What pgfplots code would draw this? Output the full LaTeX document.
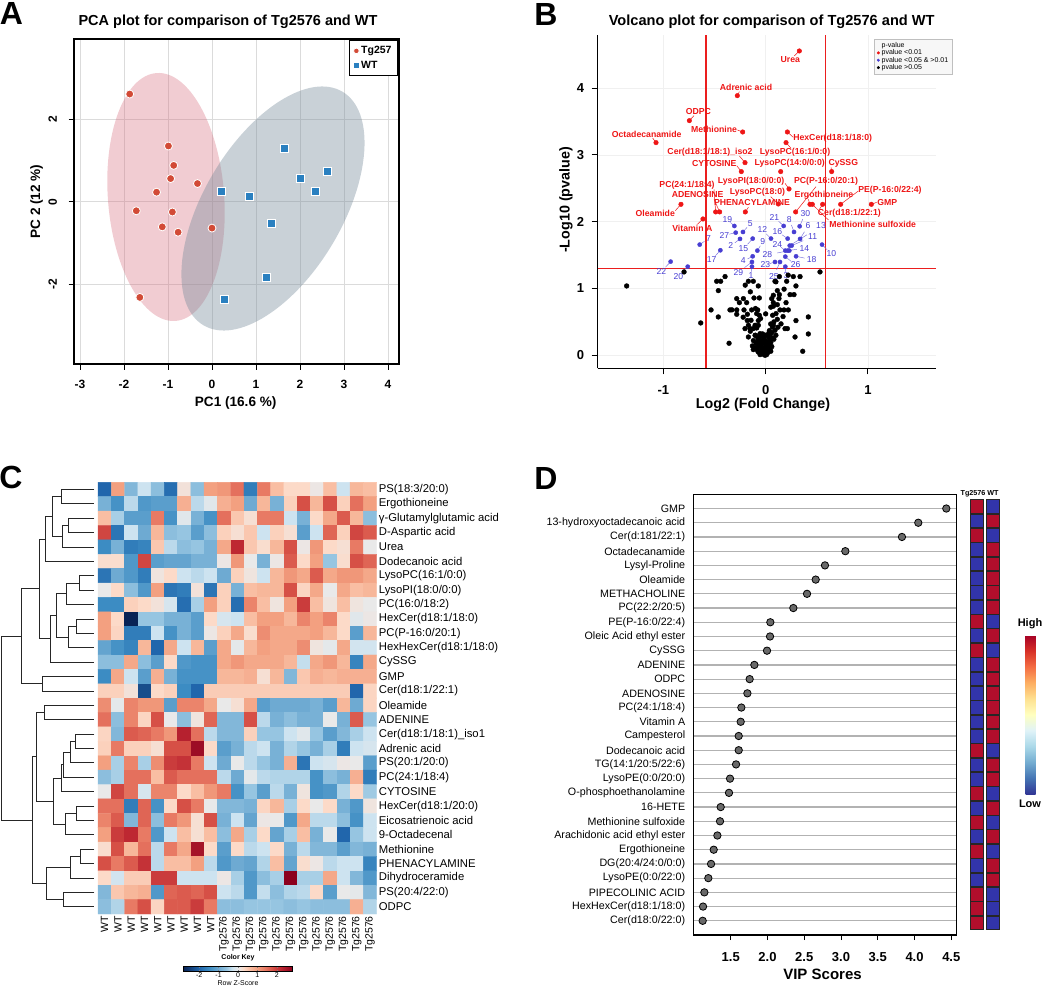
\documentclass[border=0pt]{standalone}
\usepackage{fontspec}
\setmainfont{Liberation Sans}
\usepackage{pgfplots}
\pgfplotsset{compat=1.18}
\usetikzlibrary{shapes.geometric,calc}
\newcommand{\fs}[1]{\fontsize{#1}{#1}\selectfont}
% dendrogram join: x_join, y_a, x_a, y_b, x_b
\newcommand{\djn}[5]{\addplot[black!85, line width=0.9pt] coordinates {(#3,#2) (#1,#2) (#1,#4) (#5,#4)};}
% blue numbered label with leader
\newcommand{\bl}[5]{\draw[vblue!75, line width=0.45pt] (axis cs:#1,#2) -- ($(axis cs:#1,#2)!0.55!(axis cs:#3,#4)$); \node[blab] at (axis cs:#3,#4) {#5};}
\newcommand{\rl}[7]{\draw[vred, line width=0.5pt] (axis cs:#1,#2) -- (axis cs:#3,#4); \node[rlab] at (axis cs:#5,#6) {#7};}
\definecolor{pcared}{RGB}{210,74,54}
\definecolor{pcablue}{RGB}{42,128,192}
\definecolor{ellred}{RGB}{215,110,125}
\definecolor{ellgray}{RGB}{120,140,155}
\definecolor{vred}{RGB}{238,22,22}
\definecolor{vblue}{RGB}{72,62,210}
\definecolor{vline}{RGB}{235,30,30}
\definecolor{dotgray}{RGB}{105,105,105}
\definecolor{stripred}{RGB}{178,14,44}
\definecolor{stripblue}{RGB}{50,52,170}
\pgfplotsset{
  /pgf/number format/assume math mode=true,
  colormap={hm}{rgb255(0cm)=(8,35,85) rgb255(0.8cm)=(33,102,172) rgb255(1.3cm)=(60,140,195)
    rgb255(1.8cm)=(110,170,210) rgb255(2.2cm)=(150,197,225) rgb255(2.5cm)=(205,227,240)
    rgb255(2.8cm)=(233,233,233) rgb255(3.1cm)=(252,218,200) rgb255(3.4cm)=(249,190,163)
    rgb255(3.8cm)=(243,160,128) rgb255(4.2cm)=(232,122,100) rgb255(4.6cm)=(214,80,70)
    rgb255(5.0cm)=(190,40,50) rgb255(5.6cm)=(140,0,30)},
  colormap={rdylbu}{rgb255=(49,54,149) rgb255=(69,117,180) rgb255=(116,173,209) rgb255=(171,217,233)
    rgb255=(224,243,248) rgb255=(255,255,191) rgb255=(254,224,144) rgb255=(253,174,97)
    rgb255=(244,109,67) rgb255=(215,48,39) rgb255=(165,0,38)},
}
\tikzset{rlab/.style={font=\bfseries\fs{8.7}, text=vred, inner sep=0.5pt},
         blab/.style={font=\fs{8.6}, text=vblue, inner sep=0.5pt}}
\begin{document}
\begin{tikzpicture}
\useasboundingbox (0pt,0pt) rectangle (1050pt,-1007pt);

% ---------------- panel letters and titles ----------------
\node[font=\bfseries\fs{32}] at (11.5pt,-13.5pt) {A};
\node[font=\bfseries\fs{32}] at (546pt,-14pt) {B};
\node[font=\bfseries\fs{32}] at (11pt,-477pt) {C};
\node[font=\bfseries\fs{32}] at (546pt,-478pt) {D};
\node[font=\bfseries\fs{14.5}] at (228pt,-22pt) {PCA plot for comparison of Tg2576 and WT};
\node[font=\bfseries\fs{14.6}] at (771.7pt,-21.7pt) {Volcano plot for comparison of Tg2576 and WT};

% ---------------- A: PCA ----------------
\begin{axis}[
  at={(74pt,-364pt)}, anchor=south west, scale only axis,
  width=325pt, height=325pt,
  xmin=-3.136, xmax=4.25, ymin=-3.935, ymax=3.944,
  xtick={-3,...,4}, ytick={-2,0,2},
  grid=major, grid style={black!14, line width=0.9pt},
  axis line style={line width=1.4pt},
  tick align=outside, tick pos=left, major tick length=5.5pt,
  tick style={black, line width=0.9pt},
  ticklabel style={font=\bfseries\fs{12}},
  xticklabel shift=7pt, yticklabel shift=8pt,
  yticklabel style={rotate=90, anchor=south},
  xlabel={PC1 (16.6 \%)}, ylabel={PC 2 (12 \%)},
  label style={font=\bfseries\fs{13.6}},
  xlabel style={at={(axis description cs:0.4975,-0.119)}, anchor=center},
  ylabel style={at={(axis description cs:-0.115,0.5)}, anchor=center},
  legend style={at={(axis description cs:0.997,0.997)}, anchor=north east, draw=black,
    line width=1pt, font=\bfseries\fs{10.5}, inner xsep=4pt, inner ysep=4pt,
    row sep=1.5pt, cells={anchor=west}},
  legend image code/.code={\draw[#1, mark size=2.8pt] plot coordinates {(0pt,0pt)};},
]
\node[ellipse, fill=ellred, fill opacity=0.35, inner sep=0pt, minimum width=248.6pt,
      minimum height=116.2pt, rotate=94.4] at (axis cs:-1.045,0.114) {};
\node[ellipse, fill=ellgray, fill opacity=0.4, inner sep=0pt, minimum width=271.8pt,
      minimum height=138.6pt, rotate=59.2] at (axis cs:1.386,-0.165) {};
\addplot[only marks, mark=*, mark size=4pt, mark options={fill=pcared, draw=white, line width=0.8pt}]
  coordinates {(-1.87,2.61) (-0.99,1.35) (-0.87,0.88) (-0.94,0.56) (-0.33,0.44) (-1.26,0.23)
               (-1.72,-0.22) (-0.90,-0.25) (-1.13,-0.61) (-0.77,-0.74) (0.00,-0.64) (-1.64,-2.32)};
\addlegendentry{Tg257}
\addplot[only marks, mark=square*, mark size=4pt, mark options={fill=pcablue, draw=white, line width=0.8pt}]
  coordinates {(0.22,0.24) (0.86,0.14) (1.65,1.30) (2.02,0.56) (2.62,0.74) (2.36,0.24)
               (1.35,-0.53) (1.23,-1.83) (0.28,-2.38)};
\addlegendentry{WT}
\end{axis}

% ---------------- B: volcano ----------------
\begin{axis}[
  at={(597.7pt,-368.3pt)}, anchor=south west, scale only axis,
  width=338.3pt, height=333.3pt,
  xmin=-1.642, xmax=1.665, ymin=-0.195, ymax=4.795,
  axis x line*=bottom, axis y line*=left,
  axis line style={line width=1.2pt, -},
  xtick={-1,0,1}, ytick={0,...,4},
  tick align=outside, major tick length=6pt, tick style={black, line width=1pt},
  ticklabel style={font=\bfseries\fs{13}},
  xticklabel shift=8pt, yticklabel shift=4pt,
  grid=major, grid style={black!6, line width=0.6pt},
  xlabel={Log2 (Fold Change)}, ylabel={-Log10 (pvalue)},
  label style={font=\bfseries\fs{14.3}},
  xlabel style={at={(axis description cs:0.4886,-0.110)}, anchor=center},
  ylabel style={at={(axis description cs:-0.0937,0.505)}, anchor=center},
  clip=false,
  legend style={at={(axis description cs:1.047,0.988)}, anchor=north east, font=\fs{7},
    draw=black!25, fill=black!3, inner xsep=1.5pt, inner ysep=1pt, row sep=-3.2pt,
    cells={anchor=west}},
  legend image code/.code={\draw[#1, mark size=1.3pt] plot coordinates {(3pt,0pt)};},
]
\addlegendimage{empty legend}\addlegendentry{p-value}
\draw[color=vline, line width=1.6pt] (axis cs:-0.585,-0.195) -- (axis cs:-0.585,4.795);
\draw[color=vline, line width=1.6pt] (axis cs:0.585,-0.195) -- (axis cs:0.585,4.795);
\draw[color=vline, line width=1.4pt] (axis cs:-1.642,1.301) -- (axis cs:1.665,1.301);
% leaders and labels (red)
\rl{0.329}{4.556}{0.280}{4.481}{0.241}{4.421}{Urea}
\rl{-0.277}{3.887}{-0.257}{3.947}{-0.192}{4.012}{Adrenic acid}
\rl{-0.746}{3.513}{-0.701}{3.588}{-0.658}{3.643}{ODPC}
\rl{-0.225}{3.343}{-0.277}{3.373}{-0.505}{3.378}{Methionine}
\rl{-1.072}{3.184}{-1.105}{3.253}{-1.163}{3.313}{Octadecanamide}
\rl{0.212}{3.343}{0.270}{3.263}{0.655}{3.243}{HexCer(d18:1/18:0)}
\rl{0.199}{3.184}{0.248}{3.099}{0.287}{3.039}{LysoPC(16:1/0:0)}
\rl{-0.202}{2.884}{-0.257}{2.984}{-0.544}{3.039}{Cer(d18:1/18:1)\_iso2}
\rl{-0.238}{2.750}{-0.283}{2.839}{-0.502}{2.874}{CYTOSINE}
\rl{0.147}{2.750}{0.147}{2.750}{0.235}{2.874}{LysoPC(14:0/0:0)}
\rl{0.645}{2.750}{0.639}{2.814}{0.759}{2.874}{CySSG}
\rl{0.228}{2.490}{0.189}{2.575}{-0.143}{2.605}{LysoPI(18:0/0:0)}
\rl{0.293}{2.146}{0.492}{2.525}{0.590}{2.605}{PC(P-16:0/20:1)}
\rl{-0.489}{2.146}{-0.505}{2.485}{-0.769}{2.550}{PC(24:1/18:4)}
\rl{0.124}{2.265}{0.049}{2.375}{-0.081}{2.440}{LysoPC(18:0)}
\rl{-0.450}{2.146}{-0.505}{2.335}{-0.665}{2.400}{ADENOSINE}
\rl{0.433}{2.260}{0.417}{2.335}{0.570}{2.400}{Ergothioneine}
\rl{0.733}{2.260}{0.906}{2.460}{1.215}{2.465}{PE(P-16:0/22:4)}
\rl{-0.199}{2.146}{-0.169}{2.216}{-0.134}{2.285}{PHENACYLAMINE}
\rl{1.033}{2.260}{1.085}{2.290}{1.189}{2.290}{GMP}
\rl{-0.828}{2.260}{-0.883}{2.166}{-1.079}{2.126}{Oleamide}
\rl{0.557}{2.260}{0.525}{2.186}{0.818}{2.126}{Cer(d18:1/22:1)}
\rl{0.456}{2.260}{0.613}{2.026}{1.046}{1.966}{Methionine sulfoxide}
\rl{-0.613}{2.041}{-0.668}{1.961}{-0.717}{1.901}{Vitamin A}
% blue numbered labels
\bl{-0.134}{1.327}{-0.143}{1.188}{1}
\bl{-0.251}{1.742}{-0.342}{1.637}{2}
\bl{0.192}{1.327}{0.199}{1.188}{3}
\bl{-0.127}{1.482}{-0.218}{1.412}{4}
\bl{-0.222}{1.846}{-0.150}{1.971}{5}
\bl{0.336}{1.742}{0.414}{1.936}{6}
\bl{-0.645}{1.657}{-0.560}{1.747}{7}
\bl{0.277}{1.846}{0.231}{2.036}{8}
\bl{-0.081}{1.567}{-0.029}{1.697}{9}
\bl{0.551}{1.657}{0.642}{1.517}{10}
\bl{0.254}{1.642}{0.459}{1.776}{11}
\bl{0.052}{1.747}{-0.033}{1.876}{12}
\bl{0.235}{1.642}{0.541}{1.936}{13}
\bl{0.215}{1.567}{0.378}{1.602}{14}
\bl{-0.127}{1.747}{-0.218}{1.592}{15}
\bl{0.215}{1.747}{0.114}{1.851}{16}
\bl{-0.443}{1.572}{-0.528}{1.427}{17}
\bl{0.297}{1.482}{0.450}{1.432}{18}
\bl{-0.306}{1.936}{-0.375}{2.031}{19}
\bl{-0.762}{1.327}{-0.854}{1.183}{20}
\bl{0.176}{1.936}{0.085}{2.066}{21}
\bl{-0.929}{1.402}{-1.020}{1.252}{22}
\bl{0.091}{1.397}{-0.003}{1.352}{23}
\bl{0.192}{1.567}{0.114}{1.662}{24}
\bl{0.140}{1.397}{0.081}{1.183}{25}
\bl{0.192}{1.477}{0.293}{1.352}{26}
\bl{-0.293}{1.836}{-0.404}{1.796}{27}
\bl{0.231}{1.567}{0.016}{1.502}{28}
\bl{-0.134}{1.397}{-0.267}{1.243}{29}
\bl{0.332}{1.931}{0.388}{2.126}{30}
\addplot[only marks, mark=*, mark size=2.3pt, color=vred] coordinates {
 (0.329,4.556) (-0.277,3.887) (-0.746,3.513) (-0.225,3.343) (-1.072,3.184) (0.212,3.343)
 (0.199,3.184) (-0.202,2.884) (-0.238,2.750) (0.147,2.750) (0.645,2.750) (0.228,2.490)
 (-0.489,2.146) (-0.450,2.146) (-0.828,2.260) (-0.199,2.146) (0.124,2.265) (0.293,2.146)
 (0.433,2.260) (0.456,2.260) (0.557,2.260) (0.733,2.260) (1.033,2.260) (-0.613,2.041)};
\addlegendentry{pvalue <0.01}
\addplot[only marks, mark=*, mark size=2.1pt, color=vblue] coordinates {
 (-0.134,1.327) (-0.251,1.742) (0.192,1.327) (-0.127,1.482) (-0.222,1.846) (0.336,1.742)
 (-0.645,1.657) (0.277,1.846) (-0.081,1.567) (0.551,1.657) (0.254,1.642) (0.052,1.747)
 (0.235,1.642) (0.215,1.567) (-0.127,1.747) (0.215,1.747) (-0.443,1.572) (0.297,1.482)
 (-0.306,1.936) (-0.762,1.327) (0.176,1.936) (-0.929,1.402) (0.091,1.397) (0.192,1.567)
 (0.140,1.397) (0.192,1.477) (-0.293,1.836) (0.231,1.567) (-0.134,1.397) (0.332,1.931)};
\addlegendentry{pvalue <0.05 \& >0.01}
\addplot[only marks, mark=*, mark size=2.4pt, color=black] coordinates {
 (-0.397,1.178) (-0.479,1.108) (-0.440,1.108) (-0.169,1.108) (-0.121,1.108) (-0.072,1.038)
 (0.091,1.108) (0.134,1.178) (0.205,1.108) (0.296,1.038) (0.270,1.178) (0.336,1.178)
 (0.531,1.248) (-0.463,0.968) (0.114,0.968) (0.075,0.898) (0.134,0.908) (0.238,0.908)
 (0.277,0.908) (-0.283,0.848) (-0.218,0.848) (-0.114,0.858) (-0.062,0.858) (-0.257,0.788)
 (-0.186,0.788) (0.059,0.848) (0.075,0.788) (0.199,0.788) (-0.534,0.679) (-0.349,0.679)
 (-0.283,0.679) (-0.212,0.679) (-0.137,0.679) (-0.078,0.679) (0.075,0.734) (0.114,0.758)
 (0.140,0.679) (0.179,0.679) (0.221,0.679) (-0.283,0.614) (-0.179,0.614) (-0.088,0.624)
 (-0.062,0.599) (0.101,0.624) (0.068,0.599) (-0.463,0.574) (0.417,0.574) (-0.635,0.484)
 (-0.143,0.524) (-0.072,0.519) (0.114,0.539) (0.296,0.519) (-0.104,0.449) (-0.169,0.449)
 (-0.072,0.449) (0.049,0.469) (0.075,0.449) (0.065,0.424) (-0.202,0.399) (-0.153,0.399)
 (-0.088,0.409) (0.036,0.369) (0.091,0.374) (0.189,0.399) (0.212,0.399) (0.417,0.319)
 (-0.169,0.274) (-0.104,0.299) (-0.055,0.324) (-0.023,0.274) (0.026,0.274) (0.059,0.339)
 (0.042,0.309) (-0.072,0.240) (-0.039,0.210) (-0.016,0.240) (0.010,0.210) (0.042,0.225)
 (0.068,0.259) (-0.358,0.180) (-0.094,0.175) (-0.055,0.160) (-0.007,0.175) (0.036,0.160)
 (-0.039,0.125) (0.287,0.274) (-0.121,0.085) (-0.072,0.050) (-0.023,0.075) (0.003,0.050)
 (-0.016,0.025) (0.016,0.090) (0.042,0.090) (0.362,0.060) (-0.055,0.010) (-0.007,0.000)
 (-0.798,1.248) (-1.359,1.038)
 (-0.10,0.30) (-0.08,0.27) (-0.05,0.28) (-0.03,0.32) (0.00,0.30) (0.03,0.33) (-0.12,0.22)
 (-0.09,0.19) (-0.06,0.22) (-0.02,0.18) (0.01,0.15) (0.05,0.19) (-0.13,0.14) (-0.10,0.11)
 (-0.07,0.13) (-0.04,0.10) (0.00,0.11) (0.03,0.12) (0.06,0.13) (-0.08,0.07) (-0.05,0.05)
 (-0.02,0.06) (0.02,0.04) (0.05,0.06) (-0.03,0.02) (0.01,0.01) (-0.01,0.08) (0.08,0.24)
 (0.10,0.30) (-0.15,0.36) (-0.12,0.40) (0.12,0.42) (0.15,0.47) (-0.18,0.52) (0.17,0.58)
 (-0.22,0.57) (0.08,0.50) (-0.05,0.55) (0.00,0.62) (-0.10,0.70) (0.05,0.72) (0.13,0.85)
 (-0.15,0.95) (0.18,0.99) (-0.20,1.05) (0.10,1.10) (0.22,1.20) (-0.33,0.68)};
\addlegendentry{pvalue >0.05}
\end{axis}

% ---------------- C: heatmap ----------------
\begin{axis}[
  at={(98pt,-914pt)}, anchor=south west, scale only axis,
  width=278.7pt, height=431.7pt,
  xmin=-0.5, xmax=20.5, ymin=-0.5, ymax=29.5,
  axis line style={draw=none}, major tick length=0pt,
  xtick={0,...,20},
  xticklabels={WT,WT,WT,WT,WT,WT,WT,WT,WT,Tg2576,Tg2576,Tg2576,Tg2576,Tg2576,Tg2576,Tg2576,Tg2576,Tg2576,Tg2576,Tg2576,Tg2576},
  xticklabel style={rotate=90, anchor=east, font=\fs{10.5}, inner sep=2pt},
  ytick={0,...,29}, yticklabel pos=right,
  yticklabels={ODPC,PS(20:4/22:0),Dihydroceramide,PHENACYLAMINE,Methionine,9-Octadecenal,
    Eicosatrienoic acid,HexCer(d18:1/20:0),CYTOSINE,PC(24:1/18:4),PS(20:1/20:0),Adrenic acid,
    Cer(d18:1/18:1)\_iso1,ADENINE,Oleamide,Cer(d18:1/22:1),GMP,CySSG,HexHexCer(d18:1/18:0),
    PC(P-16:0/20:1),HexCer(d18:1/18:0),PC(16:0/18:2),LysoPI(18:0/0:0),LysoPC(16:1/0:0),
    Dodecanoic acid,Urea,D-Aspartic acid,γ-Glutamylglutamic acid,Ergothioneine,PS(18:3/20:0)},
  yticklabel style={anchor=west, font=\fs{11.3}, inner sep=2pt},
  colormap name=hm, point meta min=-2.8, point meta max=2.8,
  colorbar horizontal,
  colorbar style={at={(238pt,-958pt)}, anchor=north,
    scale only axis, width=108.7pt, height=4.6pt,
    xtick={-2,-1,0,1,2}, xticklabels={-2,-1,0,1,2}, ytick=\empty,
    xticklabel style={font=\fs{7}, inner sep=1pt}, major tick length=1.5pt,
    title={Color Key}, title style={font=\bfseries\fs{7}, inner sep=1pt, yshift=-2pt},
    xlabel={Row Z-Score}, xlabel style={font=\fs{7}, inner sep=0.5pt, yshift=-2pt},
    axis line style={line width=0.6pt}},
  clip=false,
]
\addplot[matrix plot*, mesh/cols=21, point meta=explicit] coordinates {
(0,29)[-2.0] (1,29)[1.0] (2,29)[-0.8] (3,29)[-0.3] (4,29)[-0.7] (5,29)[-1.9] (6,29)[0.15] (7,29)[-0.7] (8,29)[1.0] (9,29)[1.1] (10,29)[1.5] (11,29)[-1.7] (12,29)[1.4] (13,29)[0.6] (14,29)[0.3] (15,29)[0.3] (16,29)[0.05] (17,29)[0.6] (18,29)[-0.3] (19,29)[0.7] (20,29)[0.6]

(0,28)[-0.9] (1,28)[-1.4] (2,28)[-0.4] (3,28)[-1.3] (4,28)[-1.2] (5,28)[-1.2] (6,28)[0.8] (7,28)[-0.4] (8,28)[-0.1] (9,28)[0.8] (10,28)[1.0] (11,28)[-1.0] (12,28)[0.7] (13,28)[-0.9] (14,28)[0.4] (15,28)[1.8] (16,28)[0.7] (17,28)[1.8] (18,28)[0.4] (19,28)[1.5] (20,28)[1.0]

(0,27)[0.6] (1,27)[-0.5] (2,27)[-1.2] (3,27)[-1.2] (4,27)[1.4] (5,27)[-1.4] (6,27)[-0.1] (7,27)[-0.9] (8,27)[-1.4] (9,27)[1.5] (10,27)[0.5] (11,27)[0.2] (12,27)[1.4] (13,27)[1.4] (14,27)[-0.3] (15,27)[-0.9] (16,27)[0.3] (17,27)[0.9] (18,27)[1.7] (19,27)[0.7] (20,27)[-0.7]

(0,26)[1.9] (1,26)[-1.8] (2,26)[-0.3] (3,26)[-1.0] (4,26)[0.7] (5,26)[-0.7] (6,26)[-0.6] (7,26)[-1.2] (8,26)[-0.7] (9,26)[0.4] (10,26)[0.2] (11,26)[0.5] (12,26)[-0.3] (13,26)[0.4] (14,26)[0.2] (15,26)[-1.2] (16,26)[-0.3] (17,26)[1.6] (18,26)[0.4] (19,26)[1.9] (20,26)[1.7]

(0,25)[-1.5] (1,25)[-0.9] (2,25)[-1.7] (3,25)[-1.6] (4,25)[0.5] (5,25)[-0.4] (6,25)[-0.7] (7,25)[-0.6] (8,25)[-0.9] (9,25)[0.9] (10,25)[2.2] (11,25)[0.5] (12,25)[0.25] (13,25)[0.7] (14,25)[1.8] (15,25)[0.05] (16,25)[1.1] (17,25)[0.3] (18,25)[0.2] (19,25)[1.4] (20,25)[0.0]

(0,24)[0.25] (1,24)[0.25] (2,24)[-1.3] (3,24)[1.9] (4,24)[-1.2] (5,24)[-1.1] (6,24)[-1.1] (7,24)[-0.9] (8,24)[-0.9] (9,24)[0.05] (10,24)[1.1] (11,24)[0.0] (12,24)[-0.9] (13,24)[0.05] (14,24)[1.7] (15,24)[0.3] (16,24)[1.0] (17,24)[-0.6] (18,24)[0.25] (19,24)[1.8] (20,24)[1.6]

(0,23)[-1.8] (1,23)[-1.0] (2,23)[-1.3] (3,23)[-1.7] (4,23)[0.1] (5,23)[0.3] (6,23)[-0.3] (7,23)[-0.4] (8,23)[-0.3] (9,23)[-1.0] (10,23)[0.4] (11,23)[0.1] (12,23)[-0.3] (13,23)[0.7] (14,23)[1.1] (15,23)[0.9] (16,23)[1.7] (17,23)[0.9] (18,23)[1.1] (19,23)[1.1] (20,23)[0.9]

(0,22)[0.0] (1,22)[0.3] (2,22)[-0.7] (3,22)[-1.3] (4,22)[1.0] (5,22)[-1.8] (6,22)[-1.7] (7,22)[0.15] (8,22)[-1.8] (9,22)[0.4] (10,22)[-0.9] (11,22)[0.6] (12,22)[0.7] (13,22)[0.7] (14,22)[1.8] (15,22)[0.35] (16,22)[0.9] (17,22)[0.0] (18,22)[0.9] (19,22)[0.6] (20,22)[0.7]

(0,21)[-1.5] (1,21)[-1.5] (2,21)[0.4] (3,21)[0.3] (4,21)[0.15] (5,21)[-0.2] (6,21)[-1.9] (7,21)[-0.5] (8,21)[1.0] (9,21)[0.4] (10,21)[-1.9] (11,21)[1.3] (12,21)[0.6] (13,21)[0.1] (14,21)[1.0] (15,21)[2.0] (16,21)[0.6] (17,21)[0.1] (18,21)[0.6] (19,21)[0.1] (20,21)[0.0]

(0,20)[1.0] (1,20)[0.3] (2,20)[-2.8] (3,20)[-0.6] (4,20)[-0.6] (5,20)[-0.9] (6,20)[-0.9] (7,20)[-1.2] (8,20)[0.3] (9,20)[-0.2] (10,20)[-0.3] (11,20)[0.6] (12,20)[1.0] (13,20)[1.0] (14,20)[0.7] (15,20)[1.3] (16,20)[1.0] (17,20)[1.3] (18,20)[0.3] (19,20)[-0.1] (20,20)[0.05]

(0,19)[1.0] (1,19)[0.35] (2,19)[-1.7] (3,19)[-1.7] (4,19)[-0.3] (5,19)[-1.4] (6,19)[-0.9] (7,19)[-1.2] (8,19)[0.05] (9,19)[0.4] (10,19)[0.9] (11,19)[0.25] (12,19)[1.2] (13,19)[0.9] (14,19)[0.9] (15,19)[0.9] (16,19)[1.0] (17,19)[0.7] (18,19)[0.3] (19,19)[-1.2] (20,19)[0.7]

(0,18)[-1.1] (1,18)[-1.4] (2,18)[-1.6] (3,18)[0.7] (4,18)[-2.0] (5,18)[0.9] (6,18)[-0.3] (7,18)[0.7] (8,18)[-1.2] (9,18)[0.9] (10,18)[-0.05] (11,18)[0.7] (12,18)[1.0] (13,18)[0.9] (14,18)[0.9] (15,18)[1.2] (16,18)[0.1] (17,18)[-0.05] (18,18)[0.9] (19,18)[-0.25] (20,18)[-0.25]

(0,17)[-0.7] (1,17)[-0.7] (2,17)[0.9] (3,17)[-0.7] (4,17)[-1.2] (5,17)[0.3] (6,17)[-1.3] (7,17)[-1.4] (8,17)[-1.4] (9,17)[0.9] (10,17)[1.1] (11,17)[0.9] (12,17)[0.9] (13,17)[0.9] (14,17)[0.7] (15,17)[-0.35] (16,17)[0.9] (17,17)[1.1] (18,17)[0.7] (19,17)[-1.6] (20,17)[0.9]

(0,16)[-1.5] (1,16)[0.9] (2,16)[-0.3] (3,16)[-1.2] (4,16)[0.8] (5,16)[-0.9] (6,16)[-1.4] (7,16)[-1.4] (8,16)[-1.4] (9,16)[0.7] (10,16)[0.7] (11,16)[0.8] (12,16)[0.2] (13,16)[0.7] (14,16)[-0.8] (15,16)[0.5] (16,16)[0.8] (17,16)[0.7] (18,16)[0.8] (19,16)[0.8] (20,16)[0.8]

(0,15)[0.4] (1,15)[0.4] (2,15)[0.15] (3,15)[-2.3] (4,15)[0.3] (5,15)[0.4] (6,15)[-1.5] (7,15)[-2.0] (8,15)[0.45] (9,15)[0.45] (10,15)[0.45] (11,15)[0.45] (12,15)[0.45] (13,15)[0.45] (14,15)[0.45] (15,15)[0.45] (16,15)[0.45] (17,15)[0.45] (18,15)[0.45] (19,15)[-2.0] (20,15)[0.35]

(0,14)[1.2] (1,14)[-0.05] (2,14)[1.3] (3,14)[1.1] (4,14)[1.1] (5,14)[-1.2] (6,14)[1.3] (7,14)[1.3] (8,14)[0.9] (9,14)[0.0] (10,14)[0.2] (11,14)[0.9] (12,14)[-1.2] (13,14)[-1.0] (14,14)[-1.0] (15,14)[-1.0] (16,14)[-0.9] (17,14)[-1.2] (18,14)[0.7] (19,14)[-1.0] (20,14)[0.35]

(0,13)[1.5] (1,13)[-0.7] (2,13)[1.3] (3,13)[0.35] (4,13)[1.8] (5,13)[0.0] (6,13)[-0.7] (7,13)[0.1] (8,13)[1.6] (9,13)[-0.8] (10,13)[-0.8] (11,13)[1.8] (12,13)[-0.4] (13,13)[-0.9] (14,13)[-0.7] (15,13)[-0.9] (16,13)[-0.9] (17,13)[0.0] (18,13)[-0.9] (19,13)[1.7] (20,13)[-0.6]

(0,12)[0.35] (1,12)[-0.8] (2,12)[1.7] (3,12)[1.6] (4,12)[1.4] (5,12)[1.1] (6,12)[2.3] (7,12)[1.5] (8,12)[-0.4] (9,12)[-0.8] (10,12)[-0.8] (11,12)[0.4] (12,12)[-0.6] (13,12)[-0.6] (14,12)[-0.3] (15,12)[-0.1] (16,12)[-0.6] (17,12)[-1.2] (18,12)[-0.8] (19,12)[-0.5] (20,12)[-0.3]

(0,11)[0.4] (1,11)[1.4] (2,11)[0.4] (3,11)[0.4] (4,11)[0.2] (5,11)[1.8] (6,11)[1.8] (7,11)[2.6] (8,11)[0.3] (9,11)[-1.2] (10,11)[-0.9] (11,11)[-0.4] (12,11)[-0.3] (13,11)[-0.9] (14,11)[-0.45] (15,11)[-0.6] (16,11)[-0.9] (17,11)[-0.5] (18,11)[-1.7] (19,11)[-0.3] (20,11)[-0.2]

(0,10)[1.0] (1,10)[-0.5] (2,10)[1.3] (3,10)[-0.5] (4,10)[1.2] (5,10)[2.0] (6,10)[2.1] (7,10)[1.4] (8,10)[-0.3] (9,10)[-1.0] (10,10)[0.0] (11,10)[-0.4] (12,10)[-0.6] (13,10)[-0.9] (14,10)[0.8] (15,10)[-1.8] (16,10)[-0.3] (17,10)[-0.2] (18,10)[0.05] (19,10)[0.0] (20,10)[-1.2]

(0,9)[-0.7] (1,9)[-0.5] (2,9)[1.5] (3,9)[1.5] (4,9)[0.6] (5,9)[1.7] (6,9)[1.5] (7,9)[1.5] (8,9)[1.5] (9,9)[-0.4] (10,9)[-1.0] (11,9)[-0.05] (12,9)[-0.4] (13,9)[-0.45] (14,9)[-0.45] (15,9)[-0.45] (16,9)[-1.4] (17,9)[-0.7] (18,9)[-0.9] (19,9)[0.8] (20,9)[-1.7]

(0,8)[0.0] (1,8)[1.9] (2,8)[1.5] (3,8)[-0.2] (4,8)[1.3] (5,8)[1.3] (6,8)[0.3] (7,8)[0.6] (8,8)[1.1] (9,8)[1.4] (10,8)[-1.4] (11,8)[-0.6] (12,8)[-1.2] (13,8)[-0.4] (14,8)[-0.9] (15,8)[0.1] (16,8)[-1.4] (17,8)[-1.3] (18,8)[-0.45] (19,8)[0.3] (20,8)[-0.55]

(0,7)[1.5] (1,7)[1.5] (2,7)[-1.7] (3,7)[1.6] (4,7)[-1.4] (5,7)[0.3] (6,7)[1.8] (7,7)[1.4] (8,7)[0.0] (9,7)[-0.8] (10,7)[-0.8] (11,7)[-0.9] (12,7)[0.35] (13,7)[0.7] (14,7)[-0.5] (15,7)[0.3] (16,7)[0.0] (17,7)[0.3] (18,7)[-0.9] (19,7)[-1.3] (20,7)[0.1]

(0,6)[1.3] (1,6)[1.7] (2,6)[-0.8] (3,6)[1.6] (4,6)[-0.7] (5,6)[1.4] (6,6)[1.1] (7,6)[0.2] (8,6)[1.8] (9,6)[-0.9] (10,6)[-0.3] (11,6)[-1.1] (12,6)[0.05] (13,6)[0.0] (14,6)[-1.3] (15,6)[0.9] (16,6)[-0.4] (17,6)[-0.4] (18,6)[-0.7] (19,6)[-1.4] (20,6)[-0.3]

(0,5)[1.0] (1,5)[2.0] (2,5)[2.2] (3,5)[1.4] (4,5)[-1.3] (5,5)[-0.3] (6,5)[0.6] (7,5)[0.2] (8,5)[0.6] (9,5)[-0.7] (10,5)[0.9] (11,5)[-0.5] (12,5)[0.3] (13,5)[-1.1] (14,5)[-0.5] (15,5)[0.6] (16,5)[-0.9] (17,5)[0.0] (18,5)[-2.0] (19,5)[-0.6] (20,5)[-0.3]

(0,4)[0.25] (1,4)[1.8] (2,4)[0.7] (3,4)[1.5] (4,4)[-0.4] (5,4)[1.4] (6,4)[0.9] (7,4)[2.5] (8,4)[0.3] (9,4)[-1.2] (10,4)[0.3] (11,4)[-0.4] (12,4)[-0.3] (13,4)[0.3] (14,4)[-0.9] (15,4)[-0.4] (16,4)[-0.8] (17,4)[-0.8] (18,4)[-1.2] (19,4)[-0.8] (20,4)[-0.9]

(0,3)[1.8] (1,3)[1.4] (2,3)[1.7] (3,3)[2.1] (4,3)[-0.4] (5,3)[0.6] (6,3)[0.6] (7,3)[1.0] (8,3)[-0.4] (9,3)[-1.3] (10,3)[-1.0] (11,3)[-1.1] (12,3)[-0.45] (13,3)[0.6] (14,3)[-1.1] (15,3)[0.25] (16,3)[0.05] (17,3)[-0.4] (18,3)[-0.3] (19,3)[-0.3] (20,3)[-1.6]

(0,2)[0.3] (1,2)[-0.25] (2,2)[0.45] (3,2)[0.45] (4,2)[2.0] (5,2)[2.0] (6,2)[-0.3] (7,2)[-0.3] (8,2)[-0.3] (9,2)[0.05] (10,2)[-0.5] (11,2)[-1.3] (12,2)[-0.7] (13,2)[-0.5] (14,2)[2.8] (15,2)[-0.5] (16,2)[-0.5] (17,2)[0.9] (18,2)[-0.3] (19,2)[-0.8] (20,2)[-1.3]

(0,1)[-0.8] (1,1)[0.5] (2,1)[0.7] (3,1)[0.8] (4,1)[-1.3] (5,1)[1.6] (6,1)[1.7] (7,1)[1.6] (8,1)[1.8] (9,1)[-0.3] (10,1)[-0.4] (11,1)[-1.3] (12,1)[-0.35] (13,1)[-0.7] (14,1)[-0.45] (15,1)[-0.4] (16,1)[0.3] (17,1)[-1.2] (18,1)[0.0] (19,1)[-0.05] (20,1)[-0.8]

(0,0)[-0.7] (1,0)[-0.45] (2,0)[1.4] (3,0)[1.8] (4,0)[0.35] (5,0)[1.7] (6,0)[1.7] (7,0)[2.0] (8,0)[1.4] (9,0)[-0.7] (10,0)[-0.7] (11,0)[-0.6] (12,0)[-0.6] (13,0)[-0.6] (14,0)[-0.7] (15,0)[-0.6] (16,0)[-0.7] (17,0)[-0.7] (18,0)[-0.7] (19,0)[0.8] (20,0)[-0.45]
};
% dendrogram (rows: y = 29 - row index)
\djn{-3.24}{29}{-0.78}{28}{-0.78}
\djn{-2.74}{27}{-0.78}{26}{-0.78}
\djn{-3.21}{26.5}{-2.74}{25}{-0.78}
\djn{-3.94}{28.5}{-3.24}{25.75}{-3.21}
\djn{-4.49}{27.125}{-3.94}{24}{-0.78}
\djn{-1.93}{23}{-0.78}{22}{-0.78}
\djn{-2.86}{22.5}{-1.93}{21}{-0.78}
\djn{-2.16}{20}{-0.78}{19}{-0.78}
\djn{-2.74}{19.5}{-2.16}{18}{-0.78}
\djn{-3.61}{21.75}{-2.86}{18.75}{-2.74}
\djn{-4.07}{20.25}{-3.61}{17}{-0.78}
\djn{-4.92}{25.5625}{-4.49}{18.625}{-4.07}
\djn{-4.70}{16}{-0.78}{15}{-0.78}
\djn{-6.25}{22.094}{-4.92}{15.5}{-4.70}
\djn{-4.55}{14}{-0.78}{13}{-0.78}
\djn{-2.23}{12}{-0.78}{11}{-0.78}
\djn{-2.56}{11.5}{-2.23}{10}{-0.78}
\djn{-3.11}{10.75}{-2.56}{9}{-0.78}
\djn{-3.24}{9.875}{-3.11}{8}{-0.78}
\djn{-2.16}{7}{-0.78}{6}{-0.78}
\djn{-2.93}{6.5}{-2.16}{5}{-0.78}
\djn{-3.87}{8.9375}{-3.24}{5.75}{-2.93}
\djn{-5.17}{13.5}{-4.55}{7.344}{-3.87}
\djn{-1.86}{4}{-0.78}{3}{-0.78}
\djn{-2.56}{3.5}{-1.86}{2}{-0.78}
\djn{-3.11}{1}{-0.78}{0}{-0.78}
\djn{-4.37}{2.75}{-2.56}{0.5}{-3.11}
\djn{-5.45}{10.422}{-5.17}{1.625}{-4.37}
\djn{-7.76}{18.797}{-6.25}{6.023}{-5.45}
\end{axis}

% ---------------- D: VIP scores ----------------
\begin{axis}[
  at={(693.7pt,-935pt)}, anchor=south west, scale only axis,
  width=262.6pt, height=440.7pt,
  xmin=0.997, xmax=4.568, ymin=0, ymax=31,
  xtick={1.5,2,2.5,3,3.5,4,4.5},
  xticklabel style={font=\bfseries\fs{13}, /pgf/number format/.cd, fixed, fixed zerofill, precision=1},
  xticklabel shift=9pt,
  ytick={1,...,30},
  yticklabels={Cer(d18:0/22:0),HexHexCer(d18:1/18:0),PIPECOLINIC ACID,LysoPE(0:0/22:0),
    DG(20:4/24:0/0:0),Ergothioneine,Arachidonic acid ethyl ester,Methionine sulfoxide,16-HETE,
    O-phosphoethanolamine,LysoPE(0:0/20:0),TG(14:1/20:5/22:6),Dodecanoic acid,Campesterol,
    Vitamin A,PC(24:1/18:4),ADENOSINE,ODPC,ADENINE,CySSG,Oleic Acid ethyl ester,
    PE(P-16:0/22:4),PC(22:2/20:5),METHACHOLINE,Oleamide,Lysyl-Proline,Octadecanamide,
    Cer(d:181/22:1),13-hydroxyoctadecanoic acid,GMP},
  yticklabel style={font=\fs{10.7}},
  ymajorgrids, grid style={black!30, line width=1.2pt},
  axis line style={line width=1.4pt},
  tick align=outside, xtick pos=left, ytick pos=left, ytick style={draw=none},
  major tick length=5pt, xtick style={black, line width=1pt},
  xlabel={VIP Scores},
  xlabel style={font=\bfseries\fs{15}, at={(axis description cs:0.4905,-0.0885)}, anchor=center},
]
\addplot[only marks, mark=*, mark size=3.7pt, mark options={fill=dotgray, draw=black, line width=0.8pt}]
 coordinates {(4.432,30) (4.051,29) (3.829,28) (3.059,27) (2.782,26) (2.656,25) (2.538,24)
 (2.352,23) (2.039,22) (2.035,21) (1.994,20) (1.822,19) (1.758,18) (1.727,17) (1.645,16)
 (1.636,15) (1.609,14) (1.609,13) (1.573,12) (1.491,11) (1.477,10) (1.364,9) (1.355,8)
 (1.319,7) (1.269,6) (1.233,5) (1.196,4) (1.142,3) (1.124,2) (1.119,1)};
\end{axis}

% ---------------- D: group strips and High/Low key ----------------
\begin{axis}[
  at={(970pt,-930pt)}, anchor=south west, scale only axis,
  width=30pt, height=430.7pt,
  xmin=0, xmax=30, ymin=0.5, ymax=30.5,
  axis line style={draw=none}, xtick=\empty, ytick=\empty,
  clip=false,
  colormap name=rdylbu, point meta min=0, point meta max=1,
  colorbar,
  colorbar style={at={(1017pt,-635pt)}, anchor=north west,
    scale only axis, width=10pt, height=159pt, ytick=\empty, xtick=\empty,
    axis line style={draw=none}},
]
\addplot[only marks, mark=square*, mark size=6.9pt,
  mark options={xscale=0.926, fill=stripred, draw=black!85, line width=0.7pt}]
 coordinates {(6.65,30) (6.65,28) (6.65,22) (6.65,20) (6.65,13) (6.65,10) (6.65,8) (6.65,6)
 (6.65,3) (6.65,2) (6.65,1)
 (23,29) (23,27) (23,26) (23,25) (23,24) (23,23) (23,21) (23,19) (23,18) (23,17) (23,16)
 (23,15) (23,14) (23,12) (23,11) (23,9) (23,7) (23,5) (23,4)};
\addplot[only marks, mark=square*, mark size=6.9pt,
  mark options={xscale=0.926, fill=stripblue, draw=black!85, line width=0.7pt}]
 coordinates {(23,30) (23,28) (23,22) (23,20) (23,13) (23,10) (23,8) (23,6)
 (23,3) (23,2) (23,1)
 (6.65,29) (6.65,27) (6.65,26) (6.65,25) (6.65,24) (6.65,23) (6.65,21) (6.65,19) (6.65,18)
 (6.65,17) (6.65,16) (6.65,15) (6.65,14) (6.65,12) (6.65,11) (6.65,9) (6.65,7) (6.65,5) (6.65,4)};
\end{axis}
\node[font=\bfseries\fs{7.2}] at (973pt,-493.3pt) {Tg2576};
\node[font=\bfseries\fs{7.2}] at (993pt,-493.3pt) {WT};
\node[font=\bfseries\fs{11}] at (1030pt,-624pt) {High};
\node[font=\bfseries\fs{11}] at (1030pt,-804pt) {Low};
\end{tikzpicture}
\end{document}
